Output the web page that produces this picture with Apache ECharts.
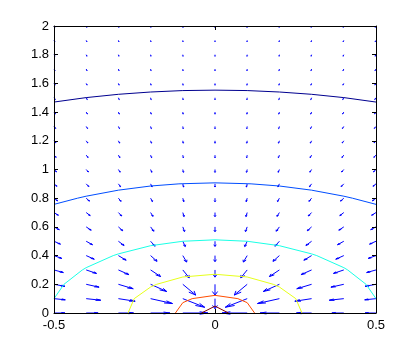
<!DOCTYPE html>
<html>
<head>
<meta charset="utf-8">
<script src="https://cdn.jsdelivr.net/npm/echarts@6/dist/echarts.min.js"></script>
<style>
  html, body { margin: 0; padding: 0; background: #fff; }
  #main { width: 415px; height: 352px; }
</style>
</head>
<body>
<div id="main"></div>
<script>
// quiver grid
const gridX = [-0.5, -0.4, -0.3, -0.2, -0.1, 0, 0.1, 0.2, 0.3, 0.4, 0.5]
const gridY = [0, 0.1, 0.2, 0.3, 0.4, 0.5, 0.6, 0.7, 0.8, 0.9, 1, 1.1, 1.2, 1.3, 1.4, 1.5, 1.6, 1.7, 1.8, 1.9, 2]

// arrow components, in thousandths of an axis unit (row = gridY, col = gridX)
const quiverU = [
  [34, 37, 47, 60, 78, 0, -78, -60, -47, -37, -34],
  [35, 45, 52, 68, 68, 0, -68, -68, -52, -45, -35],
  [34, 40, 46, 50, 40, 0, -40, -50, -46, -40, -34],
  [29, 32, 33, 31, 20, 0, -20, -31, -33, -32, -29],
  [24, 25, 24, 20, 12, 0, -12, -20, -24, -25, -24],
  [20, 19.5, 17.6, 13.8, 7.7, 0, -7.7, -13.8, -17.6, -19.5, -20],
  [16.4, 15.4, 13.3, 10, 5.4, 0, -5.4, -10, -13.3, -15.4, -16.4],
  [13.5, 12.3, 10.3, 7.5, 4, 0, -4, -7.5, -10.3, -12.3, -13.5],
  [11.2, 10, 8.2, 5.9, 3.1, 0, -3.1, -5.9, -8.2, -10, -11.2],
  [9.4, 8.2, 6.7, 4.7, 2.4, 0, -2.4, -4.7, -6.7, -8.2, -9.4],
  [8, 6.9, 5.5, 3.8, 2, 0, -2, -3.8, -5.5, -6.9, -8],
  [6.8, 5.8, 4.6, 3.2, 1.6, 0, -1.6, -3.2, -4.6, -5.8, -6.8],
  [5.9, 5, 3.9, 2.7, 1.4, 0, -1.4, -2.7, -3.9, -5, -5.9],
  [5.2, 4.3, 3.4, 2.3, 1.2, 0, -1.2, -2.3, -3.4, -4.3, -5.2],
  [4.5, 3.8, 2.9, 2, 1, 0, -1, -2, -2.9, -3.8, -4.5],
  [4, 3.3, 2.6, 1.7, 0.9, 0, -0.9, -1.7, -2.6, -3.3, -4],
  [3.6, 2.9, 2.3, 1.5, 0.8, 0, -0.8, -1.5, -2.3, -2.9, -3.6],
  [3.2, 2.6, 2, 1.4, 0.7, 0, -0.7, -1.4, -2, -2.6, -3.2],
  [2.9, 2.4, 1.8, 1.2, 0.6, 0, -0.6, -1.2, -1.8, -2.4, -2.9],
  [2.6, 2.1, 1.6, 1.1, 0.6, 0, -0.6, -1.1, -1.6, -2.1, -2.6],
  [2.4, 1.9, 1.5, 1, 0.5, 0, -0.5, -1, -1.5, -1.9, -2.4]
]
const quiverV = [
  [0, 0, 0, 0, 0, 0, 0, 0, 0, 0, 0],
  [-8, -11, -18, -34, -60, -70, -60, -34, -18, -11, -8],
  [-14, -20, -31, -50, -75, -75, -75, -50, -31, -20, -14],
  [-18, -24, -33, -46, -55, -50, -55, -46, -33, -24, -18],
  [-19.5, -25, -32, -40, -45, -42, -45, -40, -32, -25, -19.5],
  [-20, -24.4, -29.4, -34.5, -37, -36, -37, -34.5, -29.4, -24.4, -20],
  [-19.7, -23.1, -26.7, -30, -32.4, -33.3, -32.4, -30, -26.7, -23.1, -19.7],
  [-18.9, -21.5, -24.1, -26.4, -28, -28.6, -28, -26.4, -24.1, -21.5, -18.9],
  [-18, -20, -21.9, -23.5, -24.6, -25, -24.6, -23.5, -21.9, -20, -18],
  [-17, -18.6, -20, -21.2, -22, -22.2, -22, -21.2, -20, -18.6, -17],
  [-16, -17.2, -18.3, -19.2, -19.8, -20, -19.8, -19.2, -18.3, -17.2, -16],
  [-15.1, -16.1, -16.9, -17.6, -18, -18.2, -18, -17.6, -16.9, -16.1, -15.1],
  [-14.2, -15, -15.7, -16.2, -16.6, -16.7, -16.6, -16.2, -15.7, -15, -14.2],
  [-13.4, -14.1, -14.6, -15, -15.3, -15.4, -15.3, -15, -14.6, -14.1, -13.4],
  [-12.7, -13.2, -13.7, -14, -14.2, -14.3, -14.2, -14, -13.7, -13.2, -12.7],
  [-12, -12.4, -12.8, -13.1, -13.3, -13.3, -13.3, -13.1, -12.8, -12.4, -12],
  [-11.4, -11.8, -12.1, -12.3, -12.5, -12.5, -12.5, -12.3, -12.1, -11.8, -11.4],
  [-10.8, -11.1, -11.4, -11.6, -11.7, -11.8, -11.7, -11.6, -11.4, -11.1, -10.8],
  [-10.3, -10.6, -10.8, -11, -11.1, -11.1, -11.1, -11, -10.8, -10.6, -10.3],
  [-9.8, -10.1, -10.3, -10.4, -10.5, -10.5, -10.5, -10.4, -10.3, -10.1, -9.8],
  [-9.4, -9.6, -9.8, -9.9, -10, -10, -10, -9.9, -9.8, -9.6, -9.4]
]
const quiverUnit = 0.001

// contour lines, outermost first
const contourNavy = [[-0.5, 1.470], [-0.4, 1.501], [-0.3, 1.524], [-0.2, 1.540], [-0.1, 1.550], [0, 1.553],
  [0.1, 1.550], [0.2, 1.540], [0.3, 1.524], [0.4, 1.501], [0.5, 1.470]]
const contourBlue = [[-0.5, 0.757], [-0.427, 0.8], [-0.4, 0.814], [-0.3, 0.856], [-0.2, 0.885], [-0.112, 0.9],
  [-0.1, 0.901], [0, 0.907], [0.1, 0.901], [0.112, 0.9], [0.2, 0.885], [0.3, 0.856], [0.4, 0.814],
  [0.427, 0.8], [0.5, 0.757]]
const contourCyan = [[-0.5, 0.1], [-0.469, 0.2], [-0.412, 0.3], [-0.4, 0.316], [-0.316, 0.4], [-0.3, 0.412],
  [-0.2, 0.469], [-0.1, 0.5], [0, 0.51], [0.1, 0.5], [0.2, 0.469], [0.3, 0.412], [0.316, 0.4],
  [0.4, 0.316], [0.412, 0.3], [0.469, 0.2], [0.5, 0.1]]
const contourYellow = [[-0.27, 0], [-0.251, 0.1], [-0.2, 0.181], [-0.181, 0.2], [-0.1, 0.251], [0, 0.27],
  [0.1, 0.251], [0.181, 0.2], [0.2, 0.181], [0.251, 0.1], [0.27, 0]]
const contourRed = [[-0.123, 0], [-0.1, 0.072], [-0.071, 0.1], [0, 0.123], [0.071, 0.1], [0.1, 0.072], [0.123, 0]]
const contourDarkRed = [[-0.042, 0], [0, 0.048], [0.042, 0]]

const contours = [
  [contourNavy, '#00008F'],
  [contourBlue, '#004DFF'],
  [contourCyan, '#1AFFE6'],
  [contourYellow, '#E6FF1A'],
  [contourRed, '#FF4D00'],
  [contourDarkRed, '#800000']
]

const quiverData = []
gridY.forEach((y, i) => {
  gridX.forEach((x, j) => {
    quiverData.push([x, y, quiverU[i][j] * quiverUnit, quiverV[i][j] * quiverUnit])
  })
})

function renderArrow (params, api) {
  const x = api.value(0)
  const y = api.value(1)
  const u = api.value(2)
  const v = api.value(3)
  if (u === 0 && v === 0) return
  const tx = x + u
  const ty = y + v
  const alpha = 0.33
  const beta = 0.33
  const p0 = api.coord([x, y])
  const p1 = api.coord([tx, ty])
  const h1 = api.coord([tx - alpha * (u + beta * v), ty - alpha * (v - beta * u)])
  const h2 = api.coord([tx - alpha * (u - beta * v), ty - alpha * (v + beta * u)])
  const style = { stroke: '#0000FF', fill: null, lineWidth: 1 }
  return {
    type: 'group',
    children: [
      { type: 'line', shape: { x1: p0[0], y1: p0[1], x2: p1[0], y2: p1[1] }, style: style },
      { type: 'polyline', shape: { points: [h1, p1, h2] }, style: style }
    ]
  }
}

const labelStyle = { color: '#000', fontSize: 13, fontFamily: 'Liberation Sans' }
const fmt = v => String(+v.toFixed(1))
const axisBase = {
  type: 'value',
  z: 10,
  axisLine: { show: true, onZero: false, lineStyle: { color: '#000', width: 1 } },
  axisTick: { show: true, inside: true, length: 4, lineStyle: { color: '#000' } },
  splitLine: { show: false }
}

const chart = echarts.init(document.getElementById('main'))
chart.setOption({
  animation: false,
  backgroundColor: '#fff',
  grid: { left: 54, right: 39, top: 26, bottom: 39 },
  xAxis: [
    Object.assign({}, axisBase, { position: 'bottom', min: -0.5, max: 0.5, interval: 0.5,
      axisLabel: Object.assign({ margin: 6, formatter: fmt }, labelStyle) }),
    Object.assign({}, axisBase, { position: 'top', min: -0.5, max: 0.5, interval: 0.5, axisLabel: { show: false } })
  ],
  yAxis: [
    Object.assign({}, axisBase, { position: 'left', min: 0, max: 2, interval: 0.2,
      axisLabel: Object.assign({ margin: 5, formatter: fmt }, labelStyle) }),
    Object.assign({}, axisBase, { position: 'right', min: 0, max: 2, interval: 0.2, axisLabel: { show: false } })
  ],
  series: contours.map(([pts, color]) => ({
    type: 'line',
    data: pts,
    symbol: 'none',
    silent: true,
    lineStyle: { color: color, width: 1 }
  })).concat([{
    type: 'custom',
    renderItem: renderArrow,
    data: quiverData,
    encode: { x: 0, y: 1 },
    silent: true
  }])
})
</script>
</body>
</html>
